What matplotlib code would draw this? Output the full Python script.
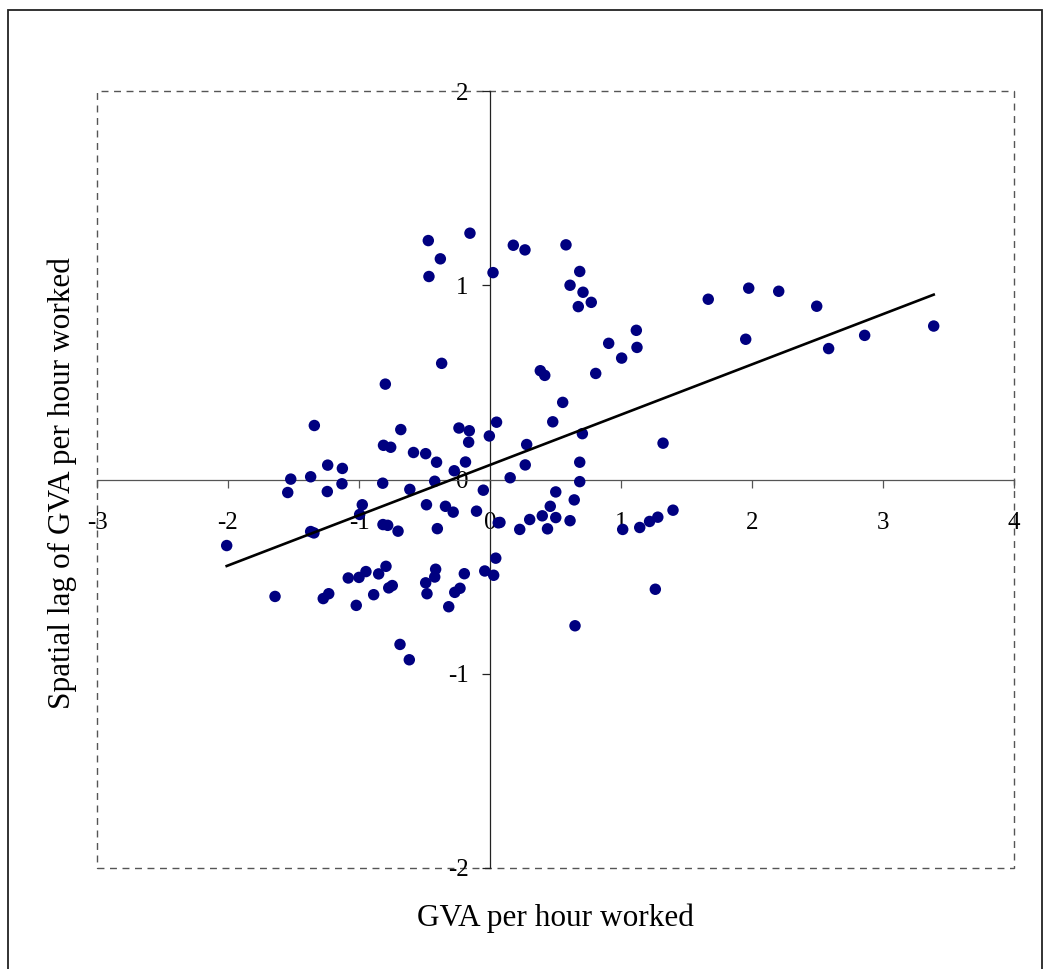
import matplotlib
matplotlib.use('Agg')
import numpy as np
import matplotlib.pyplot as plt
from matplotlib.patches import Rectangle

plt.rcParams['font.family'] = ['Liberation Serif', 'DejaVu Serif']

# GVA per hour worked (standardised) for each region
gva = [
    -0.471, -0.153, -0.379, -0.466, 0.023, 0.178, 0.267, 0.580, 0.685, 0.611,
    0.710, 0.674, 0.773, 1.117, 0.906, 1.122, 1.005, -0.369, -0.799, 0.384,
    0.418, 0.807, 0.555, 1.666, 1.975, 2.204, 2.494, 1.952, 2.585, 2.860,
    3.387, 1.321, 0.050, 0.479, -0.005, 0.705, 0.280, 0.269, 0.685, 0.154,
    0.685, -0.051, 0.502, 0.643, 0.460, 0.399, 0.502, 0.611, 0.303, 0.076,
    0.227, 0.439, 1.013, 1.143, 1.218, 1.281, 1.397, 1.262, 0.649,
    -1.341, -0.681, -0.237, -0.158, -0.163, -0.813, -0.758, -0.584, -0.491, -0.408,
    -0.187, -0.273, -1.239, -1.127, -1.369, -1.521, -0.819, -1.130, -0.422, -1.544,
    -1.242, -0.612, -0.975, -0.485, -0.340, -0.281, -0.103, -0.995, -0.817, -0.781,
    -0.702, -0.402, -1.369, -1.344, -2.010, 0.063, 0.044, -0.040, 0.028, -0.196,
    -0.229, -0.269, -0.315, -0.415, -0.422, -0.491, -0.481, -0.794, -0.850, -0.746,
    -0.773, -0.947, -1.000, -1.082, -0.888, -1.021, -1.231, -1.273, -1.641, -0.687,
    -0.616,
]

# spatial lag of GVA per hour worked
lag = [
    1.230, 1.268, 1.136, 1.045, 1.065, 1.206, 1.182, 1.208, 1.071, 1.000,
    0.964, 0.890, 0.912, 0.768, 0.701, 0.680, 0.625, 0.598, 0.491, 0.560,
    0.536, 0.546, 0.397, 0.928, 0.985, 0.969, 0.892, 0.722, 0.674, 0.742,
    0.790, 0.187, 0.295, 0.297, 0.224, 0.236, 0.180, 0.075, 0.089, 0.009,
    -0.011, -0.055, -0.064, -0.105, -0.138, -0.187, -0.196, -0.212, -0.206, -0.221,
    -0.257, -0.254, -0.257, -0.247, -0.216, -0.194, -0.158, -0.565, -0.753,
    0.278, 0.257, 0.265, 0.251, 0.192, 0.176, 0.166, 0.139, 0.133, 0.089,
    0.090, 0.045, 0.074, 0.057, 0.014, 0.002, -0.019, -0.022, -0.009, -0.067,
    -0.062, -0.051, -0.130, -0.130, -0.138, -0.168, -0.163, -0.180, -0.232, -0.236,
    -0.266, -0.253, -0.268, -0.275, -0.340, -0.223, -0.405, -0.471, -0.493, -0.485,
    -0.560, -0.581, -0.655, -0.462, -0.502, -0.532, -0.588, -0.447, -0.486, -0.546,
    -0.558, -0.474, -0.504, -0.507, -0.593, -0.648, -0.588, -0.613, -0.602, -0.849,
    -0.928,
]

x_ticks = [-3, -2, -1, 0, 1, 2, 3, 4]
y_ticks = [-2, -1, 0, 1, 2]

gva = np.array(gva)
lag = np.array(lag)

fig = plt.figure(figsize=(10.44, 9.69), dpi=100)
ax = fig.add_axes([97 / 1044, 1 - 868 / 969, 917 / 1044, 777 / 969])

# points
ax.scatter(gva, lag, s=68, color='#000080', edgecolors='none', zorder=3)

# linear trendline over the data range
slope, intercept = np.polyfit(gva, lag, 1)
xs = np.array([gva.min(), gva.max()])
ax.plot(xs, slope * xs + intercept, color='black', lw=1.9, zorder=4)

ax.set_xlim(-3, 4)
ax.set_ylim(-2, 2)

# axes crossing at the origin
ax.spines['left'].set_position('zero')
ax.spines['bottom'].set_position('zero')
ax.spines['top'].set_visible(False)
ax.spines['right'].set_visible(False)
ax.spines['left'].set_color('#222222')
ax.spines['bottom'].set_color('#555555')
for s in ['left', 'bottom']:
    ax.spines[s].set_linewidth(0.9)

ax.set_xticks(x_ticks)
ax.set_yticks(y_ticks)
ax.set_xticklabels([str(t) for t in x_ticks])
ax.set_yticklabels([str(t) for t in y_ticks])
ax.tick_params(axis='x', direction='out', length=5.5, width=0.9, color='#555555',
               labelsize=18, pad=18)
ax.tick_params(axis='y', direction='out', length=5.5, width=0.9, color='#222222',
               labelsize=18, pad=10)

# dashed plot area border
ax.add_patch(Rectangle((0, 0), 1, 1, transform=ax.transAxes, fill=False,
                       edgecolor='#555555', lw=1.0, linestyle=(0, (5, 4)),
                       clip_on=False, zorder=1))

# outer chart border
fig.patches.append(Rectangle((8 / 1044, -0.02), 1034 / 1044, 1 - 10 / 969 + 0.02,
                             transform=fig.transFigure, fill=False,
                             edgecolor='#222222', lw=1.3))

fig.text(555 / 1044, 1 - 918 / 969, 'GVA per hour worked', fontsize=22.5,
         ha='center', va='center')
fig.text(62 / 1044, 1 - 483 / 969, 'Spatial lag of GVA per hour worked', fontsize=22.5,
         ha='center', va='center', rotation=90)

fig.savefig('out.png', dpi=100)
